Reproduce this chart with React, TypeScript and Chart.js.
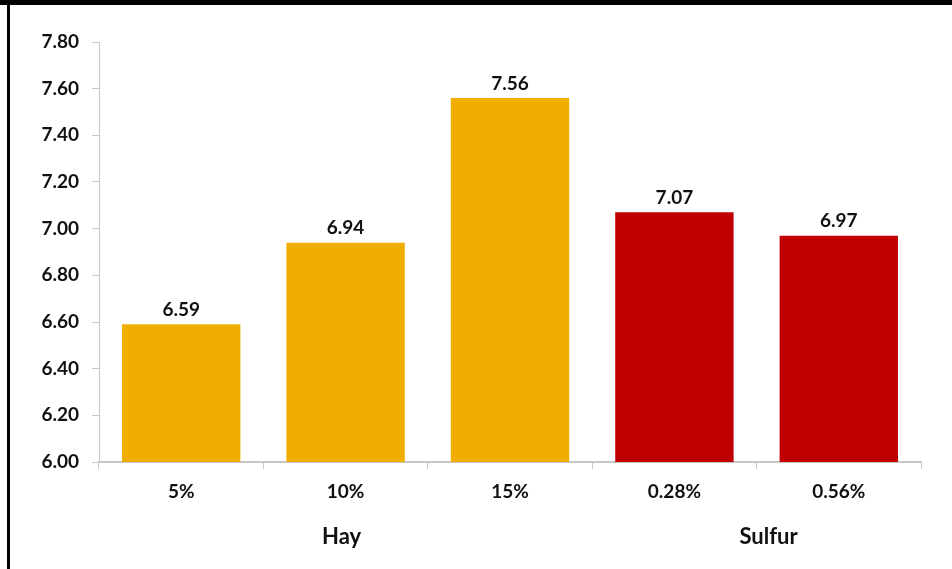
import React, { useEffect, useRef } from "react";
import { Chart, registerables } from "chart.js";

Chart.register(...registerables);

const categories = ["5%", "10%", "15%", "0.28%", "0.56%"];
const values = [6.59, 6.94, 7.56, 7.07, 6.97];
const groups = ["Hay", "Hay", "Hay", "Sulfur", "Sulfur"];
const groupNames = ["Hay", "Sulfur"];
const yTicks = [6.0, 6.2, 6.4, 6.6, 6.8, 7.0, 7.2, 7.4, 7.6, 7.8];

const GOLD = "#F0AE00";
const RED = "#C00000";
const barColors = groups.map((g) => (g === "Hay" ? GOLD : RED));

const FONT = "Lato, 'Open Sans', 'DejaVu Sans', sans-serif";
const AXIS_GRAY = "#C6C6C6";

const decorPlugin = {
  id: "decor",
  beforeDraw(chart: any) {
    const ctx = chart.ctx;
    ctx.save();
    ctx.fillStyle = "#ffffff";
    ctx.fillRect(0, 0, chart.width, chart.height);
    ctx.fillStyle = "#000000";
    ctx.fillRect(0, 0, chart.width, 5);
    ctx.fillRect(7, 0, 3, chart.height);
    ctx.restore();
  },
  afterDatasetsDraw(chart: any) {
    const ctx = chart.ctx;
    const meta = chart.getDatasetMeta(0);
    ctx.save();
    ctx.fillStyle = "#111111";
    ctx.font = `bold 19px ${FONT}`;
    ctx.textAlign = "center";
    ctx.textBaseline = "bottom";
    meta.data.forEach((bar: any, i: number) => {
      ctx.fillText(values[i].toFixed(2), bar.x, bar.y - 5);
    });
    // group labels
    const xs = chart.scales.x;
    const nudges: Record<string, number> = { Hay: -4, Sulfur: 12 };
    ctx.font = `bold 22px ${FONT}`;
    ctx.textBaseline = "middle";
    groupNames.forEach((g) => {
      const idx = groups.map((gg, i) => (gg === g ? i : -1)).filter((i) => i >= 0);
      const first = idx[0];
      const last = idx[idx.length - 1];
      const cx = (xs.getPixelForValue(first) + xs.getPixelForValue(last)) / 2 + (nudges[g] || 0);
      ctx.fillText(g, cx, 537);
    });
    ctx.restore();
  },
};

export default function App() {
  const ref = useRef<HTMLCanvasElement | null>(null);
  useEffect(() => {
    if (!ref.current) return;
    const chart = new Chart(ref.current, {
      type: "bar",
      data: {
        labels: categories,
        datasets: [
          {
            data: values,
            backgroundColor: barColors,
            borderWidth: 0,
            barPercentage: 0.72,
            categoryPercentage: 1,
          },
        ],
      },
      options: {
        responsive: false,
        animation: false,
        devicePixelRatio: 1,
        layout: { padding: { left: 0, right: 31, top: 42, bottom: 0 } },
        plugins: { legend: { display: false }, tooltip: { enabled: false } },
        scales: {
          x: {
            grid: {
              offset: true,
              drawOnChartArea: false,
              drawTicks: true,
              tickLength: 7,
              color: AXIS_GRAY,
            },
            border: { display: true, color: AXIS_GRAY, width: 2 },
            ticks: {
              color: "#111111",
              font: { family: FONT, size: 19, weight: "bold" },
              padding: 11,
            },
            afterFit(scale: any) {
              scale.height = 107;
            },
          },
          y: {
            min: 6,
            max: 7.8,
            afterBuildTicks(scale: any) {
              scale.ticks = yTicks.map((v) => ({ value: v }));
            },
            grid: {
              drawOnChartArea: false,
              drawTicks: true,
              tickLength: 7,
              color: AXIS_GRAY,
            },
            border: { display: true, color: AXIS_GRAY, width: 1 },
            ticks: {
              color: "#111111",
              font: { family: FONT, size: 19, weight: "bold" },
              padding: 13,
              callback: (v: any) => Number(v).toFixed(2),
            },
            afterFit(scale: any) {
              scale.width = 99;
            },
          },
        },
      },
      plugins: [decorPlugin],
    });
    return () => chart.destroy();
  }, []);
  return (
    <div style={{ position: "fixed", left: 0, top: 0, width: 952, height: 569, background: "#fff" }}>
      <canvas ref={ref} width={952} height={569} style={{ display: "block" }} />
    </div>
  );
}
